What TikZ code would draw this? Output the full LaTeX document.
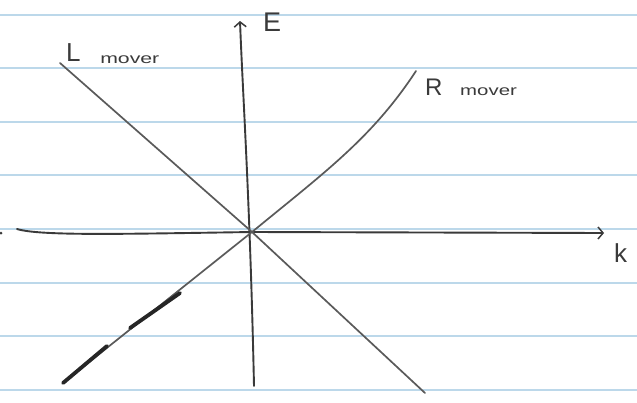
\documentclass[tikz,border=0pt]{standalone}
\usepackage{fontspec}
\setmainfont{Liberation Sans}
\usetikzlibrary{arrows.meta}
\definecolor{rule}{HTML}{BCD8EA}
\definecolor{pencil}{HTML}{3A3A3A}
\definecolor{pencillight}{HTML}{5A5A5A}
\tikzset{
  ruleline/.style={rule, line width=1.8pt},
  axisline/.style={pencil, line width=1.9pt, line cap=round},
  moverline/.style={pencillight, line width=1.7pt, line cap=round},
  inkline/.style={black!85, line width=3.8pt, line cap=round},
  tip/.style={-{Straight Barb[length=5pt,width=12pt,line width=1.5pt]}},
  lbl/.style={pencil, inner sep=0pt, anchor=base west},
}
\begin{document}
\begin{tikzpicture}[x=1pt,y=-1pt]
\useasboundingbox (0,0) rectangle (637,402);
\fill[white] (0,0) rectangle (637,402);
% ruled paper
\foreach \yy in {15,68,122,175,229,283,336,390}
  \draw[ruleline] (0,\yy) -- (637,\yy);
% coordinates
\coordinate (O) at (252,232);
\coordinate (Etop) at (240,21);
\coordinate (Ebot) at (254,386);
\coordinate (kleft) at (17,229);
\coordinate (kright) at (604,233);
\coordinate (Lstart) at (60,63);
\coordinate (Lend) at (425,393);
\coordinate (Rstart) at (63,383);
\coordinate (Rend) at (416,71);
\coordinate (s1a) at (63,383);
\coordinate (s1b) at (107,346);
\coordinate (s2a) at (130,328);
\coordinate (s2b) at (180,293);
\coordinate (mark) at (1,233);
% axes
\draw[axisline, tip] (Ebot) .. controls (250,200) and (243,100) .. (Etop);
\draw[axisline, tip] (kleft) .. controls (40,236) and (120,234) .. (O) -- (kright);
% movers
\draw[moverline] (Lstart) -- (O) -- (Lend);
\draw[moverline] (Rstart) -- (O) .. controls (325,172) and (372,138) .. (Rend);
% dark ink segments
\draw[inkline] (s1a) -- (s1b);
\draw[inkline] (s2a) -- (s2b);
\fill[pencil] (mark) circle (1.5pt);
% labels
\node[lbl, font=\fontsize{27}{27}\selectfont] (E) at (263,31) {E};
\node[lbl, font=\fontsize{26}{26}\selectfont] (k) at (614,262) {k};
\node[lbl, font=\fontsize{26}{26}\selectfont] (L) at (66,61) {L};
\node[lbl, font=\fontsize{17}{17}\selectfont, xscale=1.25, yscale=0.85] (Lm) at (100,63) {mover};
\node[lbl, font=\fontsize{24}{24}\selectfont] (R) at (425,95) {R};
\node[lbl, font=\fontsize{17}{17}\selectfont, xscale=1.2, yscale=0.85] (Rm) at (460,95) {mover};
\end{tikzpicture}
\end{document}
